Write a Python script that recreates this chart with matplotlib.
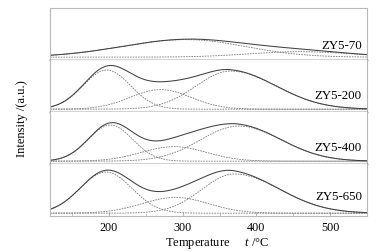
import numpy as np
import matplotlib
matplotlib.use("Agg")
import matplotlib.pyplot as plt
from matplotlib.ticker import MultipleLocator

plt.rcParams['font.family'] = ['Liberation Serif', 'DejaVu Serif']
plt.rcParams['mathtext.fontset'] = 'custom'
plt.rcParams['mathtext.rm'] = 'Liberation Serif'
plt.rcParams['mathtext.it'] = 'Liberation Serif:italic'

# Sample names, top to bottom
samples = ['ZY5-70', 'ZY5-200', 'ZY5-400', 'ZY5-650']

# Fitted peak components, per sample:
# centre (°C), height (a.u.), left width, right width
centres = [[305, 460], [197, 270, 365], [202, 288, 376], [196, 290, 370]]
heights = [[17.5, 5.5], [39, 19.5, 38], [36, 14.5, 35], [41, 15.7, 39]]
width_left = [[88, 70], [32, 41, 47], [30, 44, 52], [35, 45, 44]]
width_right = [[80, 70], [32, 41, 62], [30, 44, 58], [35, 45, 62]]

# label height within each panel (axes fraction)
label_y = [0.28, 0.32, 0.33, 0.38]

temperature = np.linspace(120, 550, 600)


def peak(t, c, h, sl, sr):
    # split gaussian, wider on one side where the fit shows it
    s = np.where(t < c, sl, sr)
    return h * np.exp(-(t - c) ** 2 / (2 * s ** 2))


fig = plt.figure(figsize=(3.79, 2.53), dpi=100)

left, right = 50 / 379, 367 / 379
top, bottom = 1 - 9 / 253, 1 - 217 / 253
panel_h = (top - bottom) / 4
frame_col = '#b8b8b8'

for i, name in enumerate(samples):
    ax = fig.add_axes([left, top - (i + 1) * panel_h, right - left, panel_h])
    total = np.zeros_like(temperature)
    for c, h, sl, sr in zip(centres[i], heights[i], width_left[i], width_right[i]):
        comp = peak(temperature, c, h, sl, sr)
        total += comp
        ax.plot(temperature, comp, color='#7a7a7a', linewidth=0.6,
                linestyle=(0, (2, 1.2)))
    ax.plot(temperature, total, color='#404040', linewidth=0.75)

    ax.set_xlim(120, 550)
    ax.set_ylim(-2.8, 49)
    ax.set_yticks([])
    ax.text(0.984, label_y[i], name, transform=ax.transAxes, ha='right',
            va='center', fontsize=9.3)

    for side in ['left', 'top', 'right', 'bottom']:
        ax.spines[side].set_color(frame_col)
        ax.spines[side].set_linewidth(0.8)
    if i > 0:
        ax.spines['top'].set_visible(False)
    if i < 3:
        ax.spines['bottom'].set_color('#222222')
        ax.spines['bottom'].set_linewidth(1.0)
        ax.set_xticks([])
    else:
        ax.xaxis.set_major_locator(MultipleLocator(100))
        ax.xaxis.set_minor_locator(MultipleLocator(50))
        ax.tick_params(axis='x', which='both', direction='in', color=frame_col,
                       labelsize=8.7, pad=3.5)
        ax.tick_params(axis='x', which='major', length=3)
        ax.tick_params(axis='x', which='minor', length=2.5)
        ax.set_xticks([200, 300, 400, 500])

fig.text(217 / 379, 1 - 244 / 253, r'Temperature     $t$ /°C', ha='center',
         va='center', fontsize=9)
fig.text(22 / 379, 1 - 119 / 253, 'Intensity /(a.u.)', rotation=90,
         ha='center', va='center', fontsize=9)

fig.savefig('out.png', dpi=100)
